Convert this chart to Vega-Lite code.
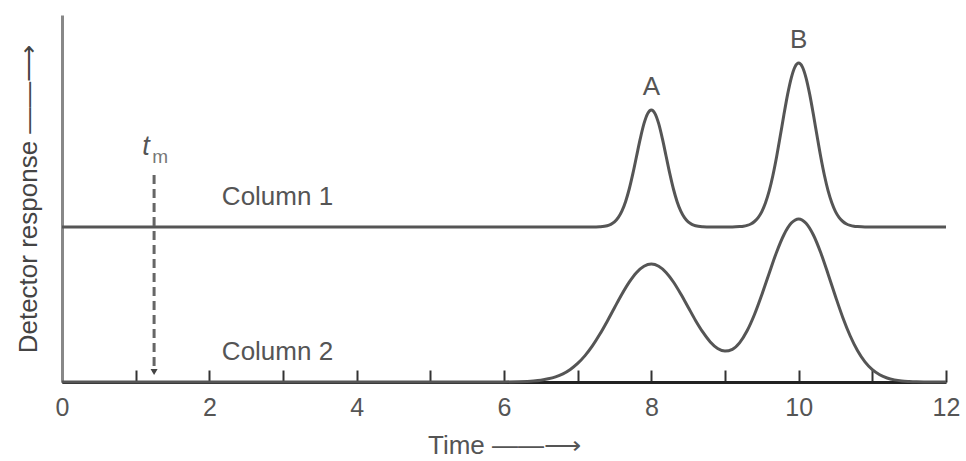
{
  "$schema": "https://vega.github.io/schema/vega-lite/v6.json",
  "width": 884,
  "height": 367,
  "autosize": {"type": "none"},
  "padding": {"left": 62, "top": 15, "right": 20, "bottom": 79},
  "background": "white",
  "config": {
    "view": {"stroke": null},
    "font": "Liberation Sans",
    "axis": {"grid": false, "titleFontWeight": "normal", "titleFont": "Liberation Sans", "labelFont": "Liberation Sans"}
  },
  "datasets": {
    "curves": [
      {"t": 0, "r": 155, "s": "Column 1"},
      {"t": 7.2, "r": 155, "s": "Column 1"},
      {"t": 7.3, "r": 155.3, "s": "Column 1"},
      {"t": 7.4, "r": 156.3, "s": "Column 1"},
      {"t": 7.45, "r": 157.7, "s": "Column 1"},
      {"t": 7.5, "r": 160.1, "s": "Column 1"},
      {"t": 7.55, "r": 164.3, "s": "Column 1"},
      {"t": 7.6, "r": 170.8, "s": "Column 1"},
      {"t": 7.65, "r": 180.3, "s": "Column 1"},
      {"t": 7.7, "r": 193.0, "s": "Column 1"},
      {"t": 7.75, "r": 208.6, "s": "Column 1"},
      {"t": 7.8, "r": 226.0, "s": "Column 1"},
      {"t": 7.85, "r": 243.3, "s": "Column 1"},
      {"t": 7.9, "r": 258.3, "s": "Column 1"},
      {"t": 7.95, "r": 268.4, "s": "Column 1"},
      {"t": 8.0, "r": 272, "s": "Column 1"},
      {"t": 8.05, "r": 268.4, "s": "Column 1"},
      {"t": 8.1, "r": 258.3, "s": "Column 1"},
      {"t": 8.15, "r": 243.3, "s": "Column 1"},
      {"t": 8.2, "r": 226.0, "s": "Column 1"},
      {"t": 8.25, "r": 208.6, "s": "Column 1"},
      {"t": 8.3, "r": 193.0, "s": "Column 1"},
      {"t": 8.35, "r": 180.3, "s": "Column 1"},
      {"t": 8.4, "r": 170.8, "s": "Column 1"},
      {"t": 8.45, "r": 164.3, "s": "Column 1"},
      {"t": 8.5, "r": 160.1, "s": "Column 1"},
      {"t": 8.55, "r": 157.7, "s": "Column 1"},
      {"t": 8.6, "r": 156.3, "s": "Column 1"},
      {"t": 8.7, "r": 155.3, "s": "Column 1"},
      {"t": 8.8, "r": 155, "s": "Column 1"},
      {"t": 9.1, "r": 155, "s": "Column 1"},
      {"t": 9.2, "r": 155.4, "s": "Column 1"},
      {"t": 9.25, "r": 155.8, "s": "Column 1"},
      {"t": 9.3, "r": 156.6, "s": "Column 1"},
      {"t": 9.35, "r": 158.0, "s": "Column 1"},
      {"t": 9.4, "r": 160.5, "s": "Column 1"},
      {"t": 9.45, "r": 164.4, "s": "Column 1"},
      {"t": 9.5, "r": 170.4, "s": "Column 1"},
      {"t": 9.55, "r": 179.2, "s": "Column 1"},
      {"t": 9.6, "r": 191.1, "s": "Column 1"},
      {"t": 9.65, "r": 206.5, "s": "Column 1"},
      {"t": 9.7, "r": 225.0, "s": "Column 1"},
      {"t": 9.75, "r": 245.9, "s": "Column 1"},
      {"t": 9.8, "r": 267.4, "s": "Column 1"},
      {"t": 9.85, "r": 287.6, "s": "Column 1"},
      {"t": 9.9, "r": 304.2, "s": "Column 1"},
      {"t": 9.95, "r": 315.2, "s": "Column 1"},
      {"t": 10.0, "r": 319, "s": "Column 1"},
      {"t": 10.05, "r": 315.2, "s": "Column 1"},
      {"t": 10.1, "r": 304.2, "s": "Column 1"},
      {"t": 10.15, "r": 287.6, "s": "Column 1"},
      {"t": 10.2, "r": 267.4, "s": "Column 1"},
      {"t": 10.25, "r": 245.9, "s": "Column 1"},
      {"t": 10.3, "r": 225.0, "s": "Column 1"},
      {"t": 10.35, "r": 206.5, "s": "Column 1"},
      {"t": 10.4, "r": 191.1, "s": "Column 1"},
      {"t": 10.45, "r": 179.2, "s": "Column 1"},
      {"t": 10.5, "r": 170.4, "s": "Column 1"},
      {"t": 10.55, "r": 164.4, "s": "Column 1"},
      {"t": 10.6, "r": 160.5, "s": "Column 1"},
      {"t": 10.65, "r": 158.0, "s": "Column 1"},
      {"t": 10.7, "r": 156.6, "s": "Column 1"},
      {"t": 10.75, "r": 155.8, "s": "Column 1"},
      {"t": 10.8, "r": 155.4, "s": "Column 1"},
      {"t": 10.9, "r": 155, "s": "Column 1"},
      {"t": 12, "r": 155, "s": "Column 1"},
      {"t": 0, "r": 0, "s": "Column 2"},
      {"t": 6.0, "r": 0.1, "s": "Column 2"},
      {"t": 6.2, "r": 0.3, "s": "Column 2"},
      {"t": 6.4, "r": 1.0, "s": "Column 2"},
      {"t": 6.5, "r": 1.8, "s": "Column 2"},
      {"t": 6.6, "r": 3.2, "s": "Column 2"},
      {"t": 6.7, "r": 5.2, "s": "Column 2"},
      {"t": 6.8, "r": 8.2, "s": "Column 2"},
      {"t": 6.9, "r": 12.6, "s": "Column 2"},
      {"t": 7.0, "r": 18.6, "s": "Column 2"},
      {"t": 7.1, "r": 26.4, "s": "Column 2"},
      {"t": 7.2, "r": 36.1, "s": "Column 2"},
      {"t": 7.3, "r": 47.7, "s": "Column 2"},
      {"t": 7.4, "r": 60.6, "s": "Column 2"},
      {"t": 7.5, "r": 74.3, "s": "Column 2"},
      {"t": 7.6, "r": 87.8, "s": "Column 2"},
      {"t": 7.7, "r": 99.9, "s": "Column 2"},
      {"t": 7.8, "r": 109.6, "s": "Column 2"},
      {"t": 7.9, "r": 115.8, "s": "Column 2"},
      {"t": 8.0, "r": 118, "s": "Column 2"},
      {"t": 8.1, "r": 115.8, "s": "Column 2"},
      {"t": 8.2, "r": 109.6, "s": "Column 2"},
      {"t": 8.3, "r": 100.0, "s": "Column 2"},
      {"t": 8.4, "r": 88.0, "s": "Column 2"},
      {"t": 8.5, "r": 74.8, "s": "Column 2"},
      {"t": 8.6, "r": 61.6, "s": "Column 2"},
      {"t": 8.7, "r": 49.8, "s": "Column 2"},
      {"t": 8.8, "r": 40.1, "s": "Column 2"},
      {"t": 8.9, "r": 33.6, "s": "Column 2"},
      {"t": 9.0, "r": 30.9, "s": "Column 2"},
      {"t": 9.1, "r": 32.7, "s": "Column 2"},
      {"t": 9.2, "r": 39.4, "s": "Column 2"},
      {"t": 9.3, "r": 51.2, "s": "Column 2"},
      {"t": 9.4, "r": 67.5, "s": "Column 2"},
      {"t": 9.5, "r": 87.3, "s": "Column 2"},
      {"t": 9.6, "r": 108.8, "s": "Column 2"},
      {"t": 9.7, "r": 129.8, "s": "Column 2"},
      {"t": 9.8, "r": 147.3, "s": "Column 2"},
      {"t": 9.9, "r": 158.9, "s": "Column 2"},
      {"t": 10.0, "r": 163.1, "s": "Column 2"},
      {"t": 10.1, "r": 158.8, "s": "Column 2"},
      {"t": 10.2, "r": 147.0, "s": "Column 2"},
      {"t": 10.3, "r": 129.2, "s": "Column 2"},
      {"t": 10.4, "r": 107.8, "s": "Column 2"},
      {"t": 10.5, "r": 85.5, "s": "Column 2"},
      {"t": 10.6, "r": 64.3, "s": "Column 2"},
      {"t": 10.7, "r": 46.0, "s": "Column 2"},
      {"t": 10.8, "r": 31.2, "s": "Column 2"},
      {"t": 10.9, "r": 20.1, "s": "Column 2"},
      {"t": 11.0, "r": 12.3, "s": "Column 2"},
      {"t": 11.1, "r": 7.2, "s": "Column 2"},
      {"t": 11.2, "r": 4.0, "s": "Column 2"},
      {"t": 11.3, "r": 2.1, "s": "Column 2"},
      {"t": 11.4, "r": 1.0, "s": "Column 2"},
      {"t": 11.5, "r": 0.5, "s": "Column 2"},
      {"t": 11.6, "r": 0.2, "s": "Column 2"},
      {"t": 11.8, "r": 0.0, "s": "Column 2"},
      {"t": 12, "r": 0, "s": "Column 2"}
    ],
    "peaks": [
      {"t": 8, "r": 295, "label": "A"},
      {"t": 10, "r": 342, "label": "B"}
    ],
    "columns": [
      {"t": 2.17, "r": 185, "label": "Column 1"},
      {"t": 2.17, "r": 30, "label": "Column 2"}
    ],
    "tm": [
      {"t": 1.25, "r1": 207, "r2": 10}
    ]
  },
  "layer": [
    {
      "data": {"name": "curves"},
      "mark": {"type": "line", "interpolate": "monotone", "color": "#555555", "strokeWidth": 3},
      "encoding": {
        "x": {
          "field": "t", "type": "quantitative",
          "scale": {"domain": [0, 12], "nice": false, "zero": false},
          "axis": {
            "values": [0, 1, 2, 3, 4, 5, 6, 7, 8, 9, 10, 11, 12],
            "format": "d",
            "labelExpr": "datum.value % 2 == 0 ? datum.label : ''",
            "tickSize": -12, "tickWidth": 2, "tickColor": "#333333",
            "domainColor": "#222222", "domainWidth": 3,
            "labelFontSize": 25, "labelColor": "#555555", "labelPadding": 25,
            "labelFlush": false, "labelOverlap": false,
            "title": "Time ——⟶", "titleFontSize": 26, "titleColor": "#555555", "titlePadding": 12
          }
        },
        "y": {
          "field": "r", "type": "quantitative",
          "scale": {"domain": [0, 367], "nice": false},
          "axis": {
            "labels": false, "ticks": false,
            "domainColor": "#888888", "domainWidth": 3,
            "title": "Detector response ——⟶", "titleFontSize": 26, "titleColor": "#444444", "titlePadding": 21
          }
        },
        "detail": {"field": "s"}
      }
    },
    {
      "data": {"name": "tm"},
      "mark": {"type": "rule", "color": "#666666", "strokeWidth": 3, "strokeDash": [9, 5]},
      "encoding": {
        "x": {"field": "t", "type": "quantitative"},
        "y": {"field": "r1", "type": "quantitative"},
        "y2": {"field": "r2"}
      }
    },
    {
      "data": {"name": "tm"},
      "mark": {"type": "point", "shape": "triangle-down", "filled": true, "color": "#444444", "size": 50, "opacity": 1},
      "encoding": {
        "x": {"field": "t", "type": "quantitative"},
        "y": {"field": "r2", "type": "quantitative"}
      }
    },
    {
      "data": {"name": "tm"},
      "mark": {"type": "text", "text": "t", "fontStyle": "italic", "fontSize": 27, "color": "#555555", "dx": -8, "dy": -28},
      "encoding": {
        "x": {"field": "t", "type": "quantitative"},
        "y": {"field": "r1", "type": "quantitative"}
      }
    },
    {
      "data": {"name": "tm"},
      "mark": {"type": "text", "text": "m", "fontSize": 19, "color": "#777777", "dx": 6, "dy": -18},
      "encoding": {
        "x": {"field": "t", "type": "quantitative"},
        "y": {"field": "r1", "type": "quantitative"}
      }
    },
    {
      "data": {"name": "peaks"},
      "mark": {"type": "text", "fontSize": 26, "color": "#555555"},
      "encoding": {
        "x": {"field": "t", "type": "quantitative"},
        "y": {"field": "r", "type": "quantitative"},
        "text": {"field": "label"}
      }
    },
    {
      "data": {"name": "columns"},
      "mark": {"type": "text", "fontSize": 26, "align": "left", "color": "#555555"},
      "encoding": {
        "x": {"field": "t", "type": "quantitative"},
        "y": {"field": "r", "type": "quantitative"},
        "text": {"field": "label"}
      }
    }
  ]
}
